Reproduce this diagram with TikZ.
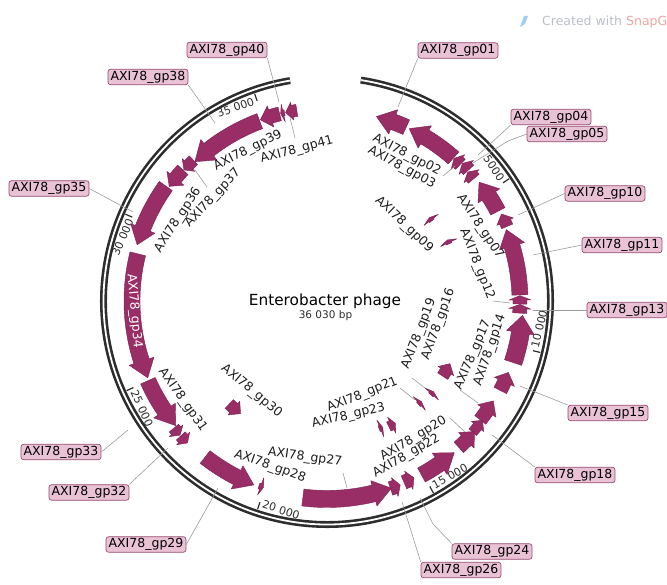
\documentclass[tikz,border=0pt]{standalone}
\usepackage{fontspec}
\newfontfamily\dv{DejaVu Sans}
\definecolor{genec}{RGB}{153,45,102}
\definecolor{genee}{RGB}{125,30,82}
\definecolor{labfill}{RGB}{234,194,214}
\definecolor{labdraw}{RGB}{150,70,110}
\definecolor{ringc}{RGB}{45,45,45}
\definecolor{leadc}{RGB}{155,155,155}
\definecolor{txtc}{RGB}{30,30,30}
\definecolor{wmgray}{RGB}{185,192,200}
\definecolor{wmred}{RGB}{240,165,160}
\definecolor{wmblue}{RGB}{160,205,240}
\tikzset{
 genestyle/.style={fill=genec, draw=genee, line width=0.4pt, line join=round},
 boxlab/.style={draw=labdraw, fill=labfill, rounded corners=2.5pt, line width=0.7pt, inner xsep=2.6pt, inner ysep=1.6pt, font=\dv\fontsize{12.5}{14}\selectfont, text=black},
 inlab/.style={font=\dv\fontsize{12.5}{14}\selectfont, text=txtc, inner sep=0pt},
 lead/.style={draw=leadc, line width=0.6pt},
 tickline/.style={draw=ringc, line width=1.2pt},
 ticklab/.style={font=\dv\fontsize{11}{13}\selectfont, text=ringc, inner sep=0.8pt},
}
\newcommand\gene[6]{%
 \pgfmathsetmacro\gnA{#1+#5}\pgfmathsetmacro\gnB{#1-#5}%
 \pgfmathsetmacro\gnC{#1+#6}\pgfmathsetmacro\gnD{#1-#6}%
 \filldraw[genestyle] (#2:\gnA) arc[start angle=#2, end angle=#3, radius=\gnA] -- (#3:\gnC) -- (#4:#1) -- (#3:\gnD) -- (#3:\gnB) arc[start angle=#3, end angle=#2, radius=\gnB] -- cycle;}
\newcommand\tickU[3]{\draw[tickline] (#1:212) -- (#1:219.5);
 \node[ticklab, anchor=north east, rotate={-(#1)-90}] (#3) at ({#1-0.6}:218) {#2};}
\newcommand\tickL[3]{\draw[tickline] (#1:212) -- (#1:219.5);
 \node[ticklab, anchor=south west, rotate={90-(#1)}] (#3) at ({#1-0.6}:218) {#2};}
\begin{document}
\begin{tikzpicture}[x=1pt,y=-1pt]
\useasboundingbox (0,0) rectangle (667,585);
% watermark
\fill[wmblue] (520,27) -- (524,16) -- (528,16) -- (525,24) -- cycle;
\node[anchor=west, font=\dv\fontsize{12.5}{14}\selectfont, inner sep=0pt] (wm) at (542,22) {\textcolor{wmgray}{Created with }\textcolor{wmred}{SnapGene}};
\begin{scope}[shift={(327,301)}]
 \draw[ringc, line width=7pt] (-81.3:223.5) arc[start angle=-81.3, end angle=260.5, radius=223.5];
 \draw[white, line width=1.8pt] (-81.3:223.5) arc[start angle=-81.3, end angle=260.5, radius=223.5];
 \tickU{-33.87}{5000}{t05}
 \tickL{13.57}{10 000}{t10}
 \tickL{61.0}{15 000}{t15}
 \tickL{108.44}{20 000}{t20}
 \tickL{155.9}{25 000}{t25}
 \tickU{203.3}{30 000}{t30}
 \tickU{250.75}{35 000}{t35}
 % outer track genes (r, tail, base, head, half body, half head)
 \gene{191}{-65.5}{-69.7}{-75}{8}{13}
 \gene{191}{-48.5}{-59.2}{-64.5}{8}{13}
 \gene{191}{-45.7}{-46.7}{-48.3}{7}{10}
 \gene{193}{-42.8}{-43.8}{-45.5}{7}{10}
 \gene{191}{-39.8}{-40.8}{-42.5}{7}{10}
 \gene{193}{-27.7}{-33}{-38}{8}{13}
 \gene{195}{-22.5}{-24}{-26.5}{6}{9}
 \gene{193}{-1.8}{-16.5}{-21.7}{8}{13}
 \gene{193}{0.9}{-0.3}{-1.6}{7}{11}
 \gene{193}{3.6}{2.3}{1.0}{7}{11}
 \gene{196}{18.3}{9.3}{4.2}{9}{14}
 \gene{195}{27.3}{24.5}{21.5}{7}{11}
 \gene{194}{37.8}{34.5}{31}{7}{11}
 \gene{196}{42}{39.8}{37.5}{5}{8}
 \gene{197}{48}{45}{41.5}{7}{11}
 \gene{198}{61.5}{55.3}{50}{8}{13}
 \gene{197}{67}{65.5}{63.8}{7}{10}
 \gene{198}{71.3}{70}{68.3}{7}{10}
 \gene{198}{97}{76.3}{71}{8.5}{13}
 \gene{197}{110.2}{109.7}{108.8}{3}{9}
 \gene{198}{128}{117}{111.7}{8}{13}
 \gene{196}{156}{146}{140.5}{8}{13}
 \gene{199}{140.3}{139.3}{137.6}{6}{9}
 \gene{199}{137.3}{136.3}{134.5}{6}{9}
 \gene{195}{194}{162}{156.8}{8}{13}
 \gene{198}{215.5}{201.5}{196.5}{8}{13}
 \gene{195}{222.3}{219}{216}{7}{11}
 \gene{194}{226.5}{224.5}{222.5}{6}{9}
 \gene{192}{249.5}{232}{226.5}{8}{13}
 \gene{193}{255.8}{253}{249.8}{7}{11}
 \gene{193}{257.3}{256.9}{256.1}{3}{9}
 \gene{193}{261}{259.6}{257.6}{6}{9}
 % inner genes
 \gene{132}{-37.4}{-37.9}{-39.2}{3}{9}
 \gene{135}{-25.1}{-25.6}{-26.9}{3}{9}
 \gene{138}{33}{30.5}{27}{6}{9}
 \gene{140}{42.1}{41.6}{40.4}{3}{9}
 \gene{138}{48.5}{48}{46.8}{3}{9}
 \gene{138}{67.8}{67.3}{66.2}{3}{9}
 \gene{140}{63.8}{62.5}{60.8}{5}{9}
 \gene{142}{133.5}{131}{127.5}{6}{9}
\end{scope}
% centre
\node[font=\dv\fontsize{15.3}{18}\selectfont, anchor=base, inner sep=0pt] (title) at (325,305.7) {Enterobacter phage};
\node[font=\dv\fontsize{10.5}{13}\selectfont, text=ringc, anchor=base, inner sep=0pt] (bp) at (325.5,318.3) {36 030 bp};
% boxed labels
\node[boxlab] (L40) at (227,50) {AXI78\_gp40};
\node[boxlab] (L38) at (148,77) {AXI78\_gp38};
\node[boxlab] (L35) at (49,188.5) {AXI78\_gp35};
\node[boxlab] (L33) at (61,452) {AXI78\_gp33};
\node[boxlab] (L32) at (89,492.5) {AXI78\_gp32};
\node[boxlab] (L29) at (146,544.5) {AXI78\_gp29};
\node[boxlab] (L26) at (461,570) {AXI78\_gp26};
\node[boxlab] (L24) at (492,551.5) {AXI78\_gp24};
\node[boxlab] (L18) at (575,475) {AXI78\_gp18};
\node[boxlab] (L15) at (608,413) {AXI78\_gp15};
\node[boxlab] (L13) at (627,310) {AXI78\_gp13};
\node[boxlab] (L11) at (622,245) {AXI78\_gp11};
\node[boxlab] (L10) at (605,193.5) {AXI78\_gp10};
\node[boxlab] (L05) at (567,134) {AXI78\_gp05};
\node[boxlab] (L04) at (551,117) {AXI78\_gp04};
\node[boxlab] (L01) at (458,50.5) {AXI78\_gp01};
% lead end points
\coordinate (E40) at (279,102);
\coordinate (E38) at (215,123);
\coordinate (E35) at (133,212);
\coordinate (E33) at (128,430);
\coordinate (E32) at (168,448);
\coordinate (E29) at (218,488);
\coordinate (E26) at (402,502);
\coordinate (B24) at (433,524);
\coordinate (E24) at (420,498);
\coordinate (E18) at (492,435);
\coordinate (E15) at (520,386);
\coordinate (E13) at (533,310);
\coordinate (E11) at (533,255);
\coordinate (E10) at (518,215);
\coordinate (B05) at (508,141);
\coordinate (E05) at (473,163);
\coordinate (E04) at (478,155);
\coordinate (E01) at (398,107);
\draw[lead] (L40.south east) -- (E40);
\draw[lead] (L38.south east) -- (E38);
\draw[lead] (L35.east) -- (E35);
\draw[lead] (L33.east) -- (E33);
\draw[lead] (L32.north east) -- (E32);
\draw[lead] (L29.east) -- (E29);
\draw[lead] (L26.north west) -- (E26);
\draw[lead] (L24.north west) -- (B24) -- (E24);
\draw[lead] (L18.north west) -- (E18);
\draw[lead] (L15.north west) -- (E15);
\draw[lead] (L13.west) -- (E13);
\draw[lead] (L11.west) -- (E11);
\draw[lead] (L10.west) -- (E10);
\draw[lead] (L05.west) -- (B05) -- (E05);
\draw[lead] (L04.south west) -- (E04);
\draw[lead] (L01.south west) -- (E01);
% inner labels
\node[inlab, rotate=26.6] (T39) at (248,150.5) {AXI78\_gp39};
\node[inlab, rotate=15] (T41) at (297,150) {AXI78\_gp41};
\node[inlab, rotate=46.8] (T37) at (213,198) {AXI78\_gp37};
\node[inlab, rotate=57] (T36) at (178,220) {AXI78\_gp36};
\node[inlab, rotate=-85, text=white] (T34) at (134,311) {AXI78\_gp34};
\node[inlab, rotate=-55] (T31) at (182.5,400) {AXI78\_gp31};
\node[inlab, rotate=-39.6] (T30) at (251.5,391) {AXI78\_gp30};
\node[inlab, rotate=-19.5] (T28) at (270,466.5) {AXI78\_gp28};
\node[inlab, rotate=-7.8] (T27) at (305,457.5) {AXI78\_gp27};
\node[inlab, rotate=13.5] (T23) at (348.5,416) {AXI78\_gp23};
\node[inlab, rotate=21.8] (T21) at (362.5,395) {AXI78\_gp21};
\node[inlab, rotate=30] (T22) at (406.5,456) {AXI78\_gp22};
\node[inlab, rotate=31] (T20) at (413.5,439) {AXI78\_gp20};
\node[inlab, rotate=68.7] (T19) at (419,334) {AXI78\_gp19};
\node[inlab, rotate=70] (T16) at (438.5,324.5) {AXI78\_gp16};
\node[inlab, rotate=66.8] (T17) at (473,355) {AXI78\_gp17};
\node[inlab, rotate=71] (T14) at (490,350.5) {AXI78\_gp14};
\node[inlab, rotate=-68.2] (T12) at (477,264.5) {AXI78\_gp12};
\node[inlab, rotate=-56.7] (T07) at (480,226.5) {AXI78\_gp07};
\node[inlab, rotate=-43.5] (T09) at (404,224.5) {AXI78\_gp09};
\node[inlab, rotate=-27.6] (T02) at (406.7,155) {AXI78\_gp02};
\node[inlab, rotate=-28.7] (T03) at (401.7,167.5) {AXI78\_gp03};
% inner leads
\coordinate (a41) at (295,138); \coordinate (b41) at (290,118);
\coordinate (a37) at (207,187); \coordinate (b37) at (195,170);
\coordinate (a19) at (412,378); \coordinate (b19) at (425,388);
\coordinate (a21) at (400,388); \coordinate (b21) at (415,400);
\coordinate (a20) at (450,418); \coordinate (b20) at (465,432);
\coordinate (a17) at (460,390); \coordinate (b17) at (478,403);
\coordinate (a12) at (493,301); \coordinate (b12) at (510,303);
\coordinate (a03) at (443,176); \coordinate (b03) at (455,166);
\coordinate (a27) at (343,473); \coordinate (b27) at (347,488);
\draw[lead] (a41) -- (b41);
\draw[lead] (a37) -- (b37);
\draw[lead] (a19) -- (b19);
\draw[lead] (a21) -- (b21);
\draw[lead] (a20) -- (b20);
\draw[lead] (a17) -- (b17);
\draw[lead] (a12) -- (b12);
\draw[lead] (a03) -- (b03);
\draw[lead] (a27) -- (b27);
\end{tikzpicture}
\end{document}
